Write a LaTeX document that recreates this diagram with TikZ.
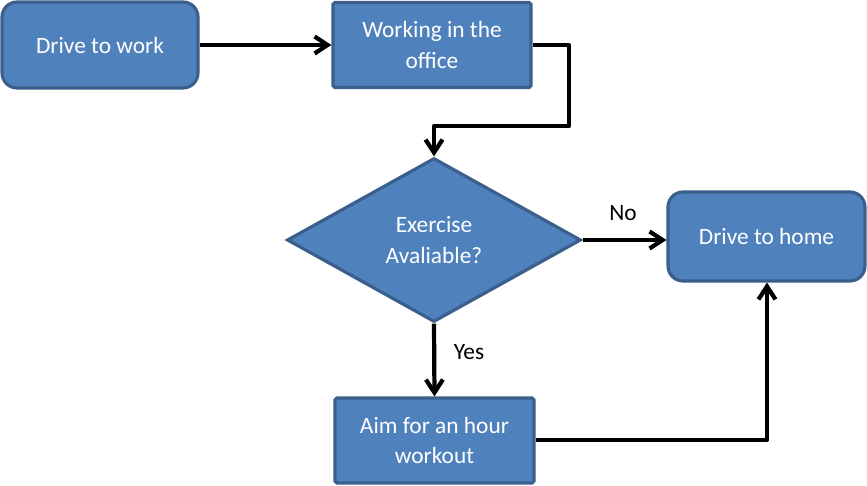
\documentclass[tikz,border=0pt]{standalone}
\usepackage{fontspec}
\setmainfont{Carlito}
\usetikzlibrary{shapes.geometric,arrows.meta}
\definecolor{boxfill}{HTML}{4F81BD}
\definecolor{boxline}{HTML}{3A5F8C}
\begin{document}
\begin{tikzpicture}[x=0.02cm,y=-0.02cm,
  base/.style={draw=boxline,fill=boxfill,line width=1.8pt,text=white,
    font=\fontsize{13.3}{17.6}\selectfont,align=center,inner sep=0pt},
  roundbox/.style={base,rectangle,rounded corners=0.3cm},
  sharpbox/.style={base,rectangle,rounded corners=1pt},
  decision/.style={base,diamond},
  conn/.style={line width=2.4pt,line join=round,-{Straight Barb[length=0.26cm,width=0.34cm]}},
  lbl/.style={font=\fontsize{13.3}{17.6}\selectfont,inner sep=0pt}]
\useasboundingbox (0,0) rectangle (867,486);
\node[roundbox,minimum width=3.92cm,minimum height=1.72cm] (work) at (100,45) {Drive to work};
\node[sharpbox,minimum width=3.96cm,minimum height=1.70cm] (office) at (432,45) {Working in the\\office};
\node[decision,minimum width=5.88cm,minimum height=3.28cm] (ex) at (434,240) {Exercise\\Avaliable?};
\node[roundbox,minimum width=3.94cm,minimum height=1.78cm] (home) at (766.5,236.5) {Drive to home};
\node[sharpbox,minimum width=3.98cm,minimum height=1.70cm] (gym) at (434.5,440.5) {Aim for an hour\\workout};
\coordinate (c1) at (569,45);
\coordinate (c2) at (569,126);
\coordinate (c3) at (434,126);
\coordinate (c4) at (767,440);
\draw[conn] (work.east) -- (office.west);
\draw[conn] (office.east |- c1) -- (c1) -- (c2) -- (c3) -- (ex.north);
\draw[conn] (ex.east) -- (home.west |- ex.east);
\draw[conn] (ex.south) -- (gym.north);
\draw[conn] (gym.east |- c4) -- (c4) -- (home.south -| c4);
\node[lbl] (no) at (623,213) {No};
\node[lbl] (yes) at (469,352) {Yes};
\end{tikzpicture}
\end{document}
